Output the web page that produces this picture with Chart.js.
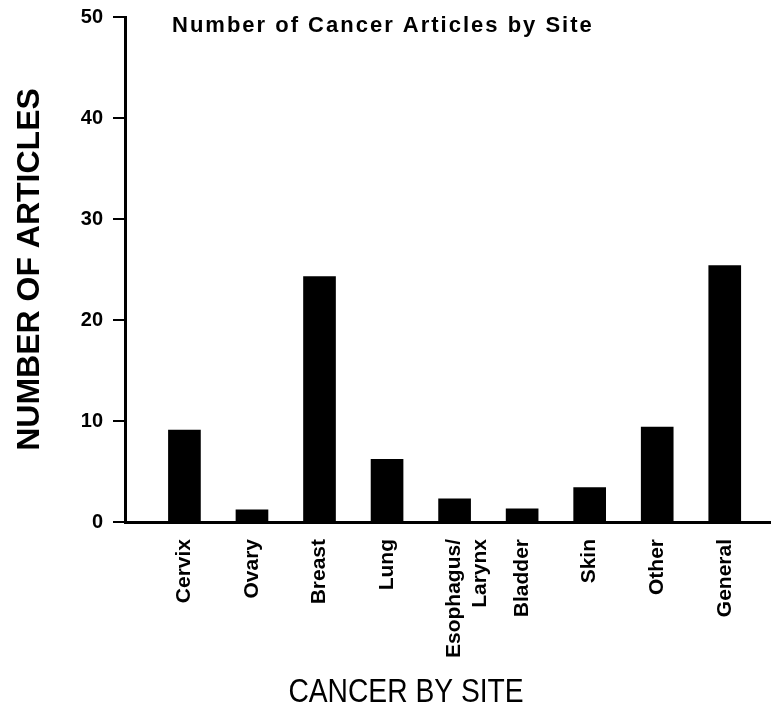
<!DOCTYPE html>
<html>
<head>
<meta charset="utf-8">
<script src="https://cdn.jsdelivr.net/npm/chart.js@4.4.1/dist/chart.umd.min.js"></script>
<style>
  html, body { margin: 0; padding: 0; background: #fff; }
  #wrap { width: 774px; height: 717px; position: relative; }
</style>
</head>
<body>
<div id="wrap"><canvas id="c" width="774" height="717"></canvas></div>
<script>
// ---- data ----
const categories = ["Cervix", "Ovary", "Breast", "Lung", ["Esophagus/", "Larynx"], "Bladder", "Skin", "Other", "General"];
const articleCounts = [9.1, 1.2, 24.3, 6.2, 2.3, 1.3, 3.4, 9.4, 25.4];
const yTicks = [0, 10, 20, 30, 40, 50];
const chartTitle = "Number of Cancer Articles by Site";
const xAxisTitle = "CANCER BY SITE";
const yAxisTitle = "NUMBER OF ARTICLES";

const textPlugin = {
  id: 'texts',
  afterDraw(chart) {
    const ctx = chart.ctx;
    ctx.save();
    ctx.fillStyle = '#000';
    ctx.textBaseline = 'alphabetic';
    ctx.textAlign = 'left';
    ctx.font = 'bold 22px "Liberation Sans", Arial, sans-serif';
    try { ctx.letterSpacing = '2px'; } catch (e) {}
    ctx.fillText(chartTitle, 172, 32);
    try { ctx.letterSpacing = '0px'; } catch (e) {}
    ctx.restore();
    ctx.save();
    ctx.fillStyle = '#000';
    ctx.font = '34px "Liberation Sans", Arial, sans-serif';
    ctx.textAlign = 'center';
    ctx.textBaseline = 'alphabetic';
    ctx.translate(406, 702);
    ctx.scale(0.83, 1);
    ctx.fillText(xAxisTitle, 0, 0);
    ctx.restore();
  }
};

new Chart(document.getElementById('c'), {
  type: 'bar',
  data: {
    datasets: [{
      data: articleCounts.map((v, i) => ({ x: i, y: v })),
      backgroundColor: '#000',
      borderWidth: 0,
      barThickness: 32
    }]
  },
  options: {
    responsive: false,
    animation: false,
    devicePixelRatio: 1,
    layout: { padding: { left: 0, right: 4, top: 0, bottom: 0 } },
    plugins: { legend: { display: false }, tooltip: { enabled: false }, title: { display: false } },
    scales: {
      x: {
        type: 'linear',
        offset: false,
        min: -0.88,
        max: 8.67,
        afterBuildTicks: (s) => { s.ticks = categories.map((_, i) => ({ value: i })); },
        afterFit: (s) => { s.height = 195; },
        grid: { display: false, offset: false },
        border: { display: true, color: '#000', width: 3 },
        ticks: {
          autoSkip: false,
          minRotation: 90,
          maxRotation: 90,
          padding: 9,
          color: '#000',
          font: { family: '"Liberation Sans", Arial, sans-serif', size: 21, weight: 'bold' },
          callback: (v) => categories[v]
        }
      },
      y: {
        min: 0,
        max: 50,
        afterBuildTicks: (s) => { s.ticks = yTicks.map(v => ({ value: v })); },
        afterFit: (s) => { s.width = 125; },
        grid: { drawOnChartArea: false, drawTicks: true, tickLength: 12, color: '#000', lineWidth: 2 },
        border: { display: true, color: '#000', width: 3 },
        ticks: {
          padding: 10,
          color: '#000',
          font: { family: '"Liberation Sans", Arial, sans-serif', size: 20, weight: 'bold', lineHeight: 0.7 }
        },
        title: {
          display: true,
          text: yAxisTitle,
          color: '#000',
          padding: { top: 14, bottom: 0 },
          font: { family: '"Liberation Sans", Arial, sans-serif', size: 32, weight: 'bold', lineHeight: 1 }
        }
      }
    }
  },
  plugins: [textPlugin]
});
</script>
</body>
</html>
